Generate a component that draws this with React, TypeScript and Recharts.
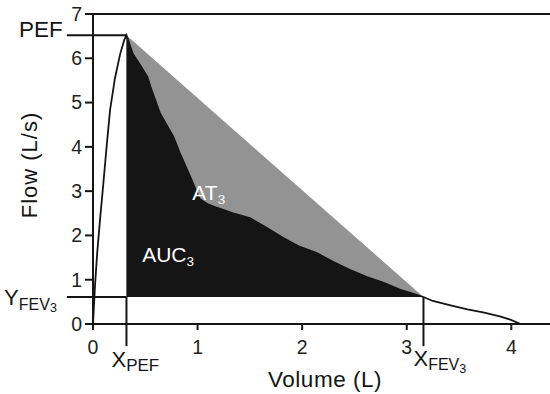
import { ComposedChart, Area, Line, XAxis, YAxis, ReferenceLine, ReferenceDot } from "recharts";

// flow-volume curve
const volume = [0, 0.02, 0.04, 0.067, 0.1, 0.13, 0.163, 0.21, 0.26, 0.3, 0.32, 0.38, 0.45, 0.52, 0.55, 0.64, 0.77, 0.83, 0.93, 1.02, 1.1, 1.19, 1.34, 1.5, 1.66, 1.82, 1.98, 2.14, 2.3, 2.46, 2.62, 2.78, 2.94, 3.05, 3.16, 3.25, 3.42, 3.58, 3.73, 3.89, 3.99, 4.09];
const flow = [0, 0.9, 1.6, 2.35, 3.2, 4.0, 4.83, 5.55, 6.1, 6.42, 6.52, 6.1, 5.85, 5.58, 5.35, 4.76, 4.22, 3.86, 3.32, 2.82, 2.7, 2.62, 2.5, 2.39, 2.17, 1.94, 1.74, 1.6, 1.4, 1.22, 1.06, 0.93, 0.77, 0.69, 0.61, 0.52, 0.42, 0.33, 0.26, 0.17, 0.1, 0];

const X_PEF = 0.32;
const PEF = 6.52;
const X_FEV3 = 3.16;
const Y_FEV3 = 0.61;

const xTicks = [0, 1, 2, 3, 4];
const yTicks = [0, 1, 2, 3, 4, 5, 6, 7];

const curve = volume.map((v, i) => ({ v, f: flow[i] }));
const aucData = curve.filter((p) => p.v >= X_PEF && p.v <= X_FEV3);
const chord = [
  { v: X_PEF, f: PEF },
  { v: X_FEV3, f: Y_FEV3 },
];

const FONT = "'Liberation Sans', Arial, sans-serif";
const INK = "#151515";

const pefLabel = ({ viewBox }: any) => (
  <text x={viewBox.x - 4} y={viewBox.y + 2} textAnchor="end" fontSize={22.5} fontFamily={FONT} fill={INK}>
    PEF
  </text>
);

const yFevLabel = ({ viewBox }: any) => (
  <text x={viewBox.x - 10} y={viewBox.y + 8} textAnchor="end" fontSize={22} fontFamily={FONT} fill={INK}>
    Y
    <tspan fontSize={16} dy={5}>FEV</tspan>
    <tspan fontSize={12.5} dy={2}>3</tspan>
  </text>
);

const xPefLabel = ({ viewBox }: any) => (
  <text x={viewBox.x - 15} y={viewBox.y + viewBox.height + 21} fontSize={22} fontFamily={FONT} fill={INK}>
    X
    <tspan fontSize={17} dy={4}>PEF</tspan>
  </text>
);

const xFevLabel = ({ viewBox }: any) => (
  <text x={viewBox.x - 10} y={viewBox.y + viewBox.height + 20} fontSize={22} fontFamily={FONT} fill={INK}>
    X
    <tspan fontSize={16} dy={4}>FEV</tspan>
    <tspan fontSize={12.5} dy={3}>3</tspan>
  </text>
);

const innerLabel = (main: string) => ({ viewBox }: any) => (
  <text x={viewBox.x} y={viewBox.y} fontSize={21} fontFamily={FONT} fill="#fff">
    {main}
    <tspan fontSize={13.5} dy={4}>3</tspan>
  </text>
);

const yTitle = ({ viewBox }: any) => {
  const x = 37;
  const y = viewBox.y + viewBox.height / 2 - 4;
  return (
    <text x={x} y={y} transform={`rotate(-90 ${x} ${y})`} textAnchor="middle" fontSize={22} letterSpacing={1} fontFamily={FONT} fill={INK}>
      Flow (L/s)
    </text>
  );
};

const xTitle = ({ viewBox }: any) => (
  <text x={325} y={viewBox.y + 63} textAnchor="middle" fontSize={22.5} letterSpacing={0.5} fontFamily={FONT} fill={INK}>
    Volume (L)
  </text>
);

export default function App() {
  const tick = { fontSize: 19.5, fontFamily: FONT, fill: "#222" };
  return (
    <div style={{ position: "absolute", left: 0, top: 0, width: 550, height: 394, background: "#fff" }}>
      <ComposedChart width={550} height={394} margin={{ top: 14, right: 0, bottom: 0, left: 0 }}>
        <XAxis
          dataKey="v"
          type="number"
          domain={[0, 4.37]}
          allowDataOverflow
          ticks={xTicks}
          tickSize={6}
          tickMargin={10}
          height={70}
          tick={tick}
          axisLine={{ stroke: INK, strokeWidth: 2 }}
          tickLine={{ stroke: INK, strokeWidth: 2 }}
          label={xTitle}
        />
        <YAxis
          type="number"
          domain={[0, 7]}
          ticks={yTicks}
          width={93}
          tickSize={8}
          tickMargin={3}
          tick={tick}
          axisLine={{ stroke: INK, strokeWidth: 2 }}
          tickLine={{ stroke: INK, strokeWidth: 2 }}
          label={yTitle}
        />
        <Area data={chord} dataKey="f" type="linear" baseValue={Y_FEV3} fill="#939393" fillOpacity={1} stroke="none" isAnimationActive={false} />
        <Area data={aucData} dataKey="f" type="linear" baseValue={Y_FEV3} fill={INK} fillOpacity={1} stroke="none" isAnimationActive={false} />
        <Line data={curve} dataKey="f" type="linear" stroke={INK} strokeWidth={1.8} dot={false} isAnimationActive={false} />
        <ReferenceLine y={7} stroke={INK} strokeWidth={2} />
        <ReferenceLine
          segment={[{ x: -0.25, y: PEF }, { x: X_PEF, y: PEF }]}
          ifOverflow="visible"
          stroke={INK}
          strokeWidth={2}
          label={pefLabel}
        />
        <ReferenceLine
          segment={[{ x: -0.25, y: Y_FEV3 }, { x: X_PEF, y: Y_FEV3 }]}
          ifOverflow="visible"
          stroke={INK}
          strokeWidth={2}
          label={yFevLabel}
        />
        <ReferenceLine
          segment={[{ x: X_PEF, y: Y_FEV3 }, { x: X_PEF, y: -0.5 }]}
          ifOverflow="visible"
          stroke={INK}
          strokeWidth={2}
          label={xPefLabel}
        />
        <ReferenceLine
          segment={[{ x: X_FEV3, y: Y_FEV3 }, { x: X_FEV3, y: -0.5 }]}
          ifOverflow="visible"
          stroke={INK}
          strokeWidth={2}
          label={xFevLabel}
        />
        <ReferenceDot x={0.95} y={2.8} r={0} fill="none" stroke="none" label={innerLabel("AT")} />
        <ReferenceDot x={0.47} y={1.4} r={0} fill="none" stroke="none" label={innerLabel("AUC")} />
      </ComposedChart>
    </div>
  );
}
